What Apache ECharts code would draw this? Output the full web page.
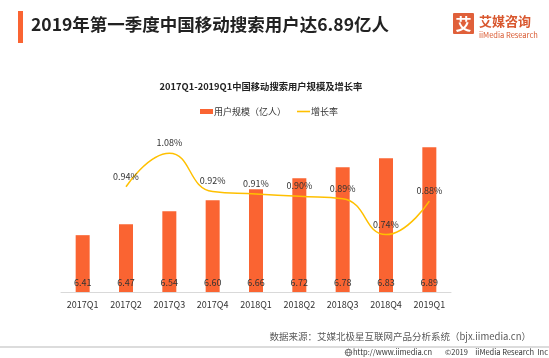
<!DOCTYPE html>
<html><head><meta charset="utf-8">
<script src="https://cdn.jsdelivr.net/npm/echarts@6/dist/echarts.min.js"></script>
<style>html,body{margin:0;padding:0;background:#fff}#c{width:549px;height:358px}</style>
</head><body><div id="c"></div>
<script>
var categories = ['2017Q1','2017Q2','2017Q3','2017Q4','2018Q1','2018Q2','2018Q3','2018Q4','2019Q1'];
var userScale = [6.41, 6.47, 6.54, 6.60, 6.66, 6.72, 6.78, 6.83, 6.89];
var growthRate = ['-', 0.94, 1.08, 0.92, 0.91, 0.90, 0.89, 0.74, 0.88];
var seriesNames = ['用户规模（亿人）', '增长率'];
var mainTitle = '2019年第一季度中国移动搜索用户达6.89亿人';
var chartTitle = '2017Q1-2019Q1中国移动搜索用户规模及增长率';
var sourceText = '数据来源：艾媒北极星互联网产品分析系统（bjx.iimedia.cn）';
var footerUrl = 'http://www.iimedia.cn';
var footerYear = '©2019';
var footerCompany = 'iiMedia Research  Inc';

var FONT = '"Noto Sans CJK SC", "Noto Sans", sans-serif';
var ORANGE = '#FA6432';
var YELLOW = '#FFC000';

var chart = echarts.init(document.getElementById('c'), null, {renderer: 'canvas'});
chart.setOption({
  backgroundColor: '#fff',
  animation: false,
  textStyle: {fontFamily: FONT},
  title: {
    text: chartTitle, left: 261, top: 82, textAlign: 'center', padding: 0,
    textStyle: {fontSize: 9.3, fontWeight: 'bold', color: '#222', fontFamily: FONT}
  },
  legend: {
    left: 200, top: 107, padding: 0, itemGap: 11, itemWidth: 13, itemHeight: 5,
    textStyle: {fontSize: 9, color: '#333', fontFamily: FONT, padding: [0,0,0,-4]},
    data: [
      {name: seriesNames[0], icon: 'rect', itemStyle: {color: ORANGE}},
      {name: seriesNames[1], icon: 'path://M0,0 L13,0 L13,1.6 L0,1.6 Z', itemStyle: {color: YELLOW, opacity: 1}}
    ]
  },
  grid: {left: 61, right: 98, top: 127, bottom: 66},
  xAxis: {
    type: 'category', data: categories,
    axisLine: {lineStyle: {color: '#d9d9d9', width: 1}},
    axisTick: {show: false},
    axisLabel: {fontSize: 9, color: '#333', margin: 8, fontFamily: FONT}
  },
  yAxis: [
    {type: 'value', min: 6.1, max: 7.0, show: false, splitLine: {show: false}},
    {type: 'value', min: 0.5, max: 1.19, show: false, splitLine: {show: false}}
  ],
  series: [
    {
      name: seriesNames[0], type: 'bar', data: userScale, barWidth: 14,
      itemStyle: {color: ORANGE},
      label: {show: true, position: 'insideBottom', distance: 5, fontSize: 9, color: '#333',
        formatter: function(p){ return p.value.toFixed(2); }}
    },
    {
      name: seriesNames[1], type: 'line', yAxisIndex: 1, data: growthRate,
      smooth: 0.5, symbol: 'circle', symbolSize: 0, showSymbol: true,
      itemStyle: {color: YELLOW},
      lineStyle: {color: YELLOW, width: 1.5},
      label: {show: true, position: 'top', distance: 6, fontSize: 9, color: '#333',
        formatter: function(p){ return p.value.toFixed(2) + '%'; }}
    }
  ],
  graphic: [
    {type: 'rect', left: 18, top: 11, shape: {width: 5, height: 32}, style: {fill: ORANGE}},
    {type: 'text', left: 31, top: 16, style: {text: mainTitle, fontSize: 17.5, fontWeight: 'bold', fill: '#222', fontFamily: FONT}},
    {type: 'rect', left: 453, top: 13, shape: {width: 21, height: 21, r: 1}, style: {fill: '#E0603A'}},
    {type: 'text', x: 463.5, y: 24, style: {text: '艾', fontSize: 16, fontWeight: 'bold', fill: '#fff', align: 'center', verticalAlign: 'middle', fontFamily: FONT}},
    {type: 'text', x: 479, y: 21, style: {text: '艾媒咨询', fontSize: 13, fontWeight: 'bold', fill: '#D9582F', verticalAlign: 'middle', fontFamily: FONT}},
    {type: 'text', x: 479, y: 35, style: {text: 'iiMedia Research', fontSize: 7.5, fill: '#D9582F', verticalAlign: 'middle', fontFamily: FONT}},
    {type: 'text', x: 531, y: 336, style: {text: sourceText, fontSize: 9.5, fill: '#595959', align: 'right', verticalAlign: 'middle', fontFamily: FONT}},
    {type: 'line', shape: {x1: 0, y1: 347, x2: 549, y2: 347}, style: {stroke: '#d0d0d0', lineWidth: 1.5}},
    {type: 'circle', shape: {cx: 348.5, cy: 352.5, r: 3.3}, style: {fill: 'none', stroke: '#555', lineWidth: 0.8}},
    {type: 'ellipse', shape: {cx: 348.5, cy: 352.5, rx: 1.4, ry: 3.3}, style: {fill: 'none', stroke: '#555', lineWidth: 0.6}},
    {type: 'line', shape: {x1: 345.2, y1: 352.5, x2: 351.8, y2: 352.5}, style: {stroke: '#555', lineWidth: 0.6}},
    {type: 'text', x: 353, y: 352.5, style: {text: footerUrl, fontSize: 7.5, fill: '#333', verticalAlign: 'middle', fontFamily: FONT}},
    {type: 'text', x: 445, y: 352.5, style: {text: footerYear, fontSize: 7.5, fill: '#333', verticalAlign: 'middle', fontFamily: FONT}},
    {type: 'text', x: 548, y: 352.5, style: {text: footerCompany, fontSize: 7.5, fill: '#333', align: 'right', verticalAlign: 'middle', fontFamily: FONT}}
  ]
});
</script></body></html>
